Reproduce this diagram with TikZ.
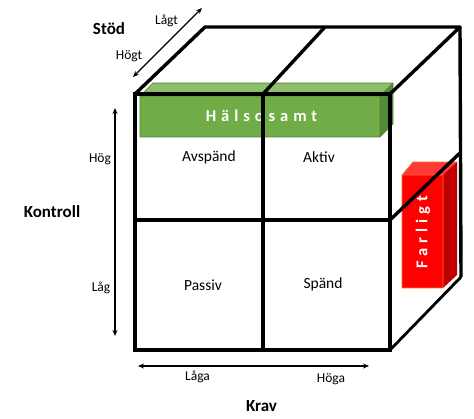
\documentclass[tikz,border=0pt]{standalone}
\usepackage{fontspec}
\setmainfont{Carlito}
\usetikzlibrary{arrows.meta}
\definecolor{greenfront}{HTML}{70AD47}
\definecolor{greentop}{HTML}{8DBE6A}
\definecolor{greenside}{HTML}{558A36}
\definecolor{greenline}{HTML}{507E32}
\definecolor{redfront}{HTML}{FF0000}
\definecolor{redtop}{HTML}{FF3838}
\definecolor{redside}{HTML}{C00000}
\definecolor{redline}{HTML}{F4732A}
\begin{document}
\begin{tikzpicture}[
    x=1pt, y=-1pt,
    every node/.style={font=\fontsize{13.5}{15}\selectfont, inner sep=0pt},
    cell/.style={font=\fontsize{15.5}{17}\selectfont},
    heading/.style={font=\fontsize{17}{19}\selectfont\bfseries},
    boxtext/.style={font=\fontsize{16.5}{18}\selectfont\bfseries\addfontfeatures{LetterSpace=30}, text=white},
    frontedge/.style={line width=4.5pt, line join=miter},
    backedge/.style={line width=3.4pt, line join=round},
    axis/.style={line width=1.2pt, {Stealth[length=6pt,width=5pt]}-{Stealth[length=6pt,width=5pt]}},
]
  \useasboundingbox (0,0) rectangle (474,418);
  % cube corners
  \coordinate (ftl) at (135,94);   \coordinate (ftr) at (390,94);
  \coordinate (fbl) at (135,350);  \coordinate (fbr) at (390,350);
  \coordinate (ftm) at (263,94);   \coordinate (fbm) at (263,350);
  \coordinate (fml) at (135,220);  \coordinate (fmr) at (390,220);
  \coordinate (btl) at (205,27);   \coordinate (btr) at (460,27);
  \coordinate (btm) at (325,27);   \coordinate (bbr) at (461,277);
  \coordinate (bmr) at (461,152);

  % green bar
  \fill [greentop]  (140,96) -- (153,83) -- (393,83) -- (380,96) -- cycle;
  \fill [greenside] (380,96) -- (393,83) -- (393,124) -- (380,137) -- cycle;
  \fill [greenfront] (140,96) rectangle (380,137);
  \draw [greenline, line width=0.6pt] (140,96) -- (153,83) -- (393,83) -- (393,124) -- (380,137) -- (140,137) -- cycle
                                      (140,96) -- (380,96) -- (393,83) (380,96) -- (380,137);
  \node [boxtext] (halsosamt) at (261.5,116) {Hälsosamt};

  % red bar
  \fill [redtop]  (402,175) -- (413,162) -- (457,162) -- (443,175) -- cycle;
  \fill [redside] (443,175) -- (457,162) -- (457,275) -- (443,288) -- cycle;
  \fill [redfront] (402,175) rectangle (443,288);
  \draw [redline, line width=0.6pt] (402,175) -- (413,162) -- (457,162) (402,175) rectangle (443,288);
  \node [boxtext, rotate=90] (farligt) at (423,232) {Farligt};

  % cube
  \draw [backedge] (ftl) -- (btl) -- (btr) -- (ftr);
  \draw [backedge] (ftm) -- (btm);
  \draw [backedge] (btr) -- (bbr);
  \draw [backedge, line width=2.8pt] (bbr) -- (fbr);
  \draw [backedge] (fmr) -- (bmr);
  \draw [frontedge] (ftl) rectangle (fbr);
  \draw [frontedge] (ftm) -- (fbm);
  \draw [frontedge] (fml) -- (fmr);

  % cells
  \node [cell] (avspand) at (209,157) {Avspänd};
  \node [cell] (aktiv)   at (319,157) {Aktiv};
  \node [cell] (passiv)  at (203,285) {Passiv};
  \node [cell] (spand)   at (323,284) {Spänd};

  % Stöd
  \coordinate (stodlo) at (133,77);
  \coordinate (stodhi) at (202,8);
  \draw [axis] (stodlo) -- (stodhi);
  \node [heading] (stod)  at (109,29) {Stöd};
  \node           (lagt)  at (166.5,21) {Lågt};
  \node           (hogt)  at (129,56) {Högt};

  % Kontroll
  \coordinate (kontrollhi) at (115,108);
  \coordinate (kontrolllo) at (115,336);
  \draw [axis] (kontrollhi) -- (kontrolllo);
  \node [heading] (kontroll) at (52,212) {Kontroll};
  \node           (hog)      at (100,159) {Hög};
  \node           (lag)      at (101,288) {Låg};

  % Krav
  \coordinate (kravlo) at (138,366);
  \coordinate (kravhi) at (369,366);
  \draw [axis] (kravlo) -- (kravhi);
  \node [heading] (krav) at (261.5,406) {Krav};
  \node           (laga) at (197.5,377) {Låga};
  \node           (hoga) at (331,379) {Höga};
\end{tikzpicture}
\end{document}
